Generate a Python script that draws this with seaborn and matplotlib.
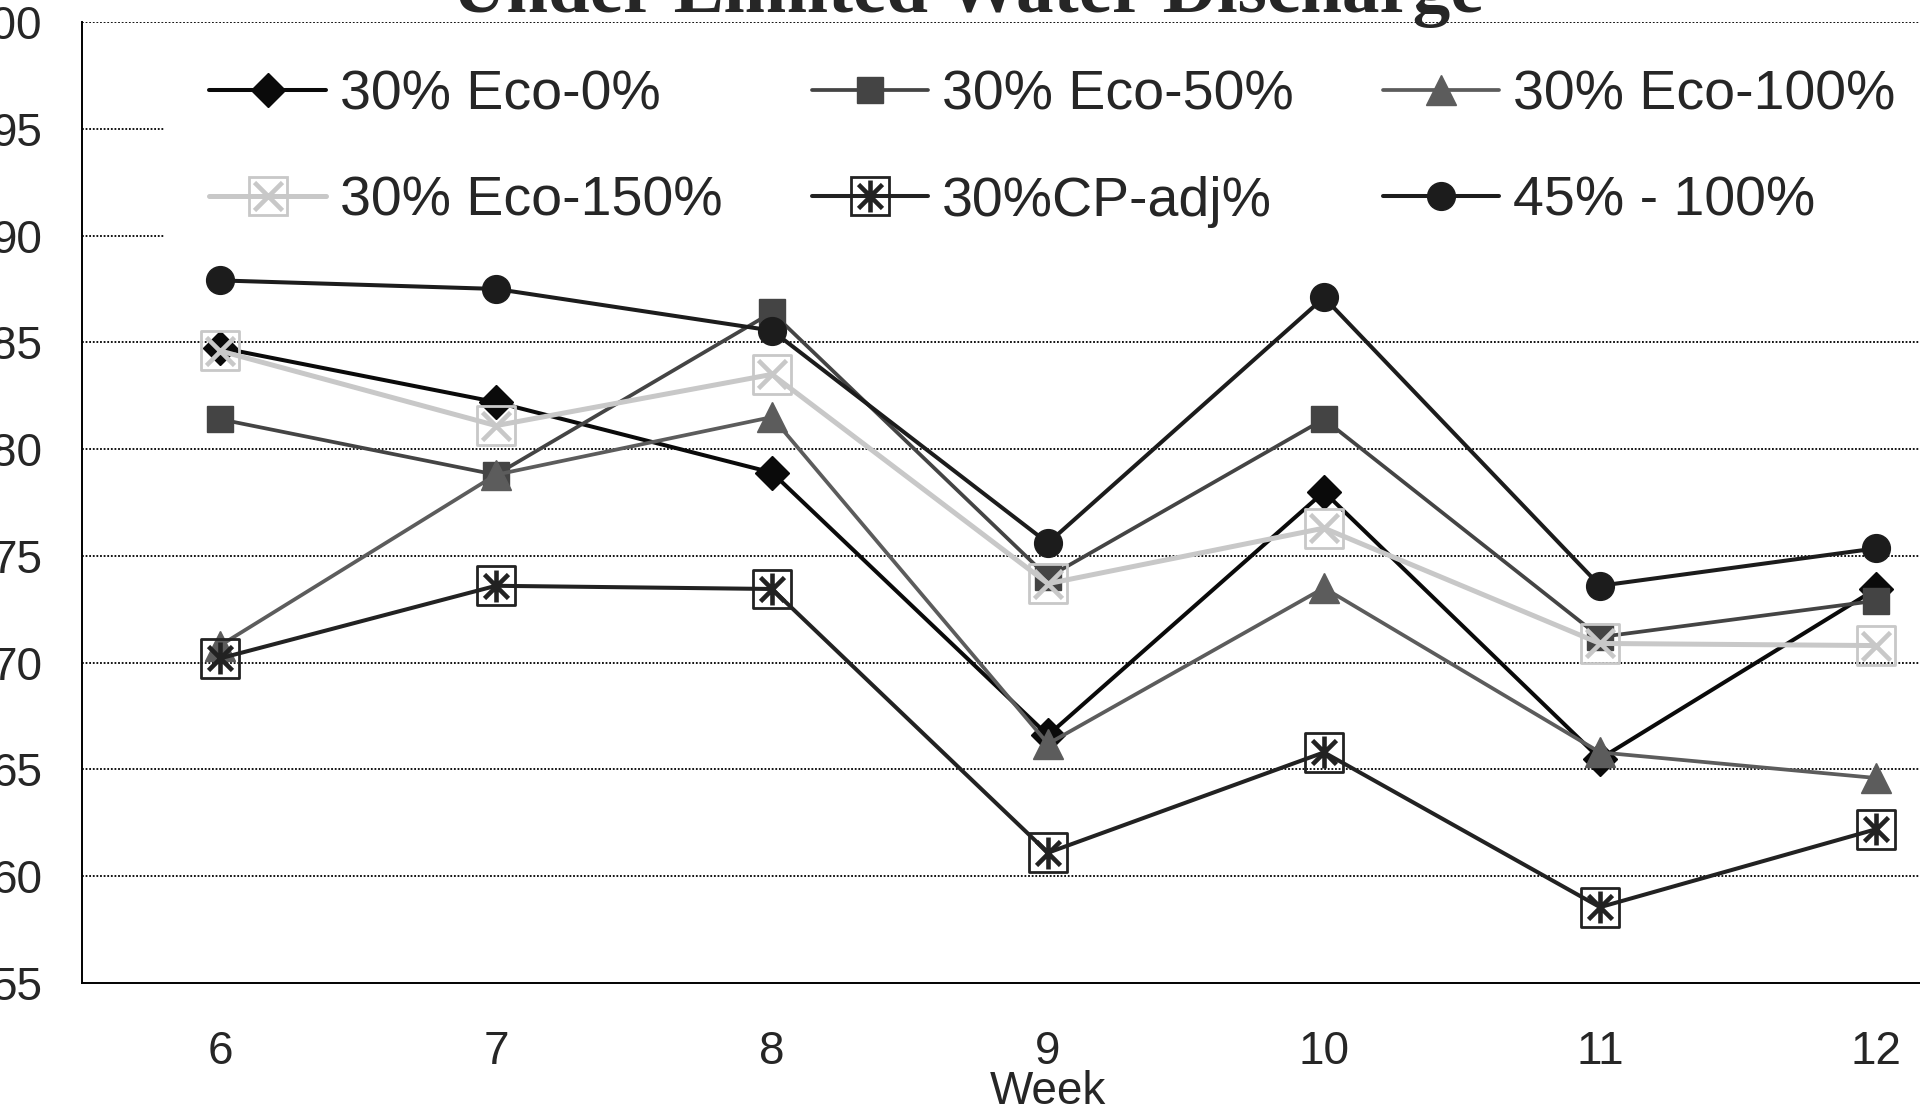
import numpy as np
import pandas as pd
import matplotlib
matplotlib.use("Agg")
import matplotlib.pyplot as plt
import seaborn as sns
from matplotlib.lines import Line2D
from matplotlib.path import Path
from matplotlib.legend_handler import HandlerTuple

# Data
weeks = [6, 7, 8, 9, 10, 11, 12]
eco_0 = [84.75, 82.2, 78.9, 66.6, 78.0, 65.5, 73.45]
eco_50 = [81.4, 78.8, 86.4, 74.0, 81.4, 71.2, 72.9]
eco_100 = [70.8, 78.8, 81.5, 66.2, 73.5, 65.8, 64.6]
eco_150 = [84.6, 81.1, 83.5, 73.7, 76.3, 70.9, 70.8]
cp_adj = [70.2, 73.6, 73.45, 61.1, 65.8, 58.55, 62.2]
p45_100 = [87.9, 87.5, 85.55, 75.6, 87.1, 73.6, 75.35]

series_names = ["30% Eco-0%", "30% Eco-50%", "30% Eco-100%",
                "30% Eco-150%", "30%CP-adj%", "45% - 100%"]
series_values = [eco_0, eco_50, eco_100, eco_150, cp_adj, p45_100]

y_ticks = [55, 60, 65, 70, 75, 80, 85, 90, 95, 100]

# Excel-like asterisk: vertical bar plus an X
asterisk = Path([(0, -1), (0, 1), (-0.75, -0.75), (0.75, 0.75),
                 (-0.75, 0.75), (0.75, -0.75)],
                [Path.MOVETO, Path.LINETO, Path.MOVETO, Path.LINETO,
                 Path.MOVETO, Path.LINETO])

# styles: color, marker, marker size, line width, boxed marker
styles = {
    "30% Eco-0%": dict(color="#0a0a0a", marker="D", ms=17, lw=2.9, box=False),
    "30% Eco-50%": dict(color="#444444", marker="s", ms=19, lw=2.7, box=False),
    "30% Eco-100%": dict(color="#5c5c5c", marker="^", ms=22, lw=2.7, box=False),
    "30% Eco-150%": dict(color="#c8c8c8", marker="x", ms=20, lw=3.6, box=True),
    "30%CP-adj%": dict(color="#222222", marker=asterisk, ms=23, lw=2.9, box=True),
    "45% - 100%": dict(color="#1c1c1c", marker="o", ms=20, lw=2.9, box=False),
}

df = pd.DataFrame({
    "week": np.tile(weeks, len(series_names)),
    "value": np.concatenate(series_values),
    "series": np.repeat(series_names, len(weeks)),
})

sns.set_style("white")
plt.rcParams["font.family"] = ["Liberation Sans", "DejaVu Sans"]

fig = plt.figure(figsize=(19.2, 11.1), dpi=100)
ax = fig.add_axes([82 / 1920, 127 / 1110, 1932 / 1920, 961 / 1110])

handles = []
for name in series_names:
    st = styles[name]
    sub = df[df["series"] == name]
    mew = 3.3 if st["box"] else 1.0
    sns.lineplot(data=sub, x="week", y="value", ax=ax, color=st["color"],
                 marker=st["marker"], markersize=st["ms"], linewidth=st["lw"],
                 markeredgecolor=st["color"], markerfacecolor=st["color"],
                 markeredgewidth=mew, legend=False, zorder=3)
    h = Line2D([], [], color=st["color"], lw=st["lw"], marker=st["marker"],
               ms=st["ms"], mec=st["color"], mfc=st["color"], mew=mew)
    if st["box"]:
        box_ms = 28
        sns.scatterplot(data=sub, x="week", y="value", ax=ax, marker="s",
                        s=box_ms ** 2, facecolor="none",
                        edgecolor=st["color"], linewidth=2.0, zorder=4,
                        legend=False)
        hb = Line2D([], [], ls="none", marker="s", ms=box_ms,
                    mfc="none", mec=st["color"], mew=2.0)
        h = (h, hb)
    handles.append(h)

ax.set_xlim(5.5, 12.5)
ax.set_ylim(55, 100)
ax.set_yticks(y_ticks)
ax.set_yticklabels([str(t) for t in y_ticks])
ax.set_xticks(np.arange(5.5, 12.6, 1.0))
ax.set_xticklabels([])
ax.set_xticks(weeks, minor=True)
ax.set_xticklabels([str(w) for w in weeks], minor=True)
ax.tick_params(axis="x", which="major", direction="out", length=9, width=1.4,
               color="black")
ax.tick_params(axis="x", which="minor", length=0, pad=34, labelsize=33)
ax.tick_params(axis="y", direction="out", length=9.5, width=1.4, pad=19,
               labelsize=33, color="black")

for y in y_ticks[1:]:
    ax.axhline(y, color="black", lw=1.3, ls=(0, (1, 1)), zorder=1)

for side in ["top", "right"]:
    ax.spines[side].set_visible(False)
for side in ["left", "bottom"]:
    ax.spines[side].set_color("black")
    ax.spines[side].set_linewidth(1.4)

ax.set_xlabel("Week", fontsize=33, labelpad=-3)
ax.set_ylabel("")

# legend fills column by column, so reorder to read row by row
order = [0, 3, 1, 4, 2, 5]
leg = ax.legend([handles[i] for i in order], [series_names[i] for i in order],
                ncol=3, loc="upper left",
                bbox_to_anchor=(165 / 1920, 1 - 25 / 1110),
                bbox_transform=fig.transFigure, fontsize=40,
                frameon=True, fancybox=False, borderaxespad=0,
                handlelength=2.1, handletextpad=0.25, columnspacing=1.6,
                labelspacing=0.98, borderpad=0.8,
                handler_map={tuple: HandlerTuple(ndivide=1)})
leg.get_frame().set_facecolor("white")
leg.get_frame().set_edgecolor("white")
leg.get_frame().set_alpha(1)
leg.set_zorder(2)

fig.text(0.504, 1 - 12 / 1110, "Under Limited Water Discharge",
         ha="center", va="baseline", fontsize=54, fontweight="bold",
         family="Liberation Serif")

fig.savefig("out.png", dpi=100, facecolor="white")
